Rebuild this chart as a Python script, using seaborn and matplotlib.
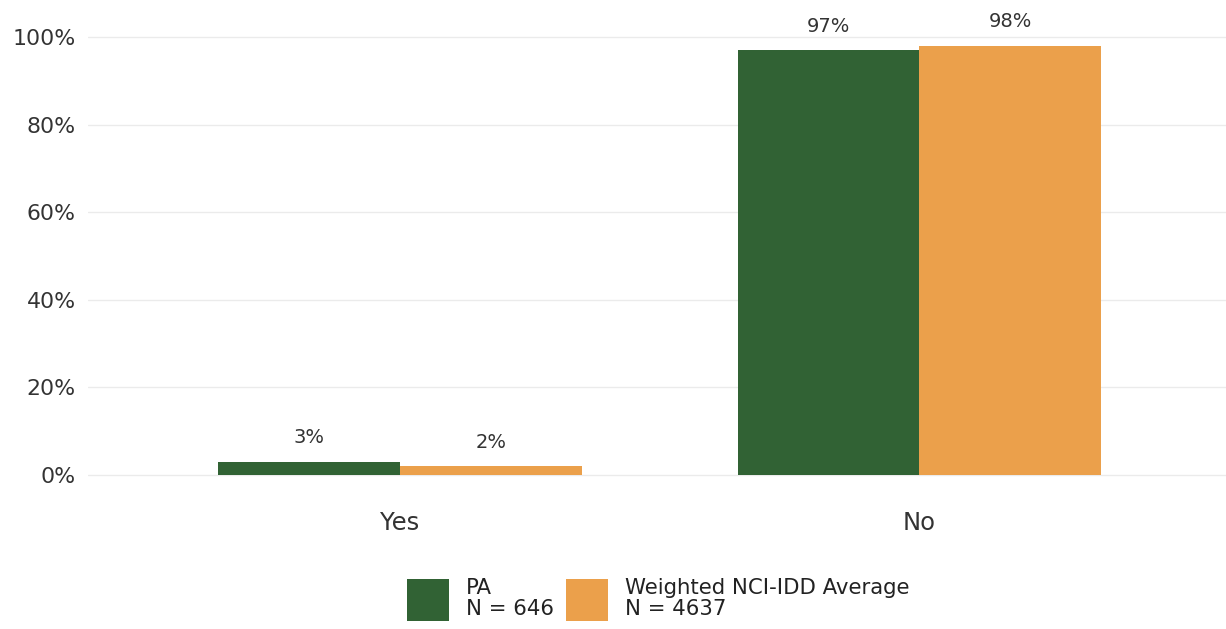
import matplotlib
matplotlib.use("Agg")
import matplotlib.pyplot as plt
import seaborn as sns
import pandas as pd
from matplotlib.patches import Patch

categories = ["Yes", "No"]
groups = ["PA\nN = 646", "Weighted NCI-IDD Average\nN = 4637"]
pa_values = [3, 97]
avg_values = [2, 98]
colors = ["#316234", "#EBA04B"]

df = pd.DataFrame({
    "category": categories * 2,
    "group": [groups[0]] * 2 + [groups[1]] * 2,
    "value": pa_values + avg_values,
})

sns.set_theme(style="white")
plt.rcParams["font.family"] = ["DejaVu Sans"]

fig = plt.figure(figsize=(12.26, 6.29), dpi=100)
ax = fig.add_axes([0.072, 0.21, 0.928, 0.766])

sns.barplot(data=df, x="category", y="value", hue="group", order=categories,
            hue_order=groups, palette=colors, width=0.7, saturation=1,
            ax=ax, legend=False, linewidth=0)

for cont in ax.containers:
    for bar in cont:
        h = bar.get_height()
        ax.text(bar.get_x() + bar.get_width() / 2, h + 5.5, f"{h:.0f}%",
                ha="center", va="center", fontsize=14, color="#333333")

ax.set_xlim(-0.6, 1.59)
ax.set_ylim(-5, 105)
ax.set_yticks([0, 20, 40, 60, 80, 100])
ax.set_yticklabels([f"{v}%" for v in [0, 20, 40, 60, 80, 100]])
ax.tick_params(axis="y", labelsize=15.8, colors="#333333", length=0, pad=9)
ax.tick_params(axis="x", labelsize=17.5, colors="#333333", length=0, pad=10)
ax.set_xlabel("")
ax.set_ylabel("")
ax.yaxis.grid(True, color="#ebebeb", linewidth=1)
ax.xaxis.grid(False)
ax.set_axisbelow(True)
for s in ax.spines.values():
    s.set_visible(False)

handles = [Patch(facecolor=c, edgecolor="none") for c in colors]
leg = fig.legend(handles, groups, loc="lower center", bbox_to_anchor=(0.537, -0.018),
                 ncol=2, frameon=False, fontsize=15.3, handlelength=1.98,
                 handleheight=2.65, handletextpad=0.8, columnspacing=0.55,
                 labelcolor="#222222")
for t in leg.get_texts():
    t.set_linespacing(1.05)

fig.savefig("out.png", dpi=100, facecolor="white")
